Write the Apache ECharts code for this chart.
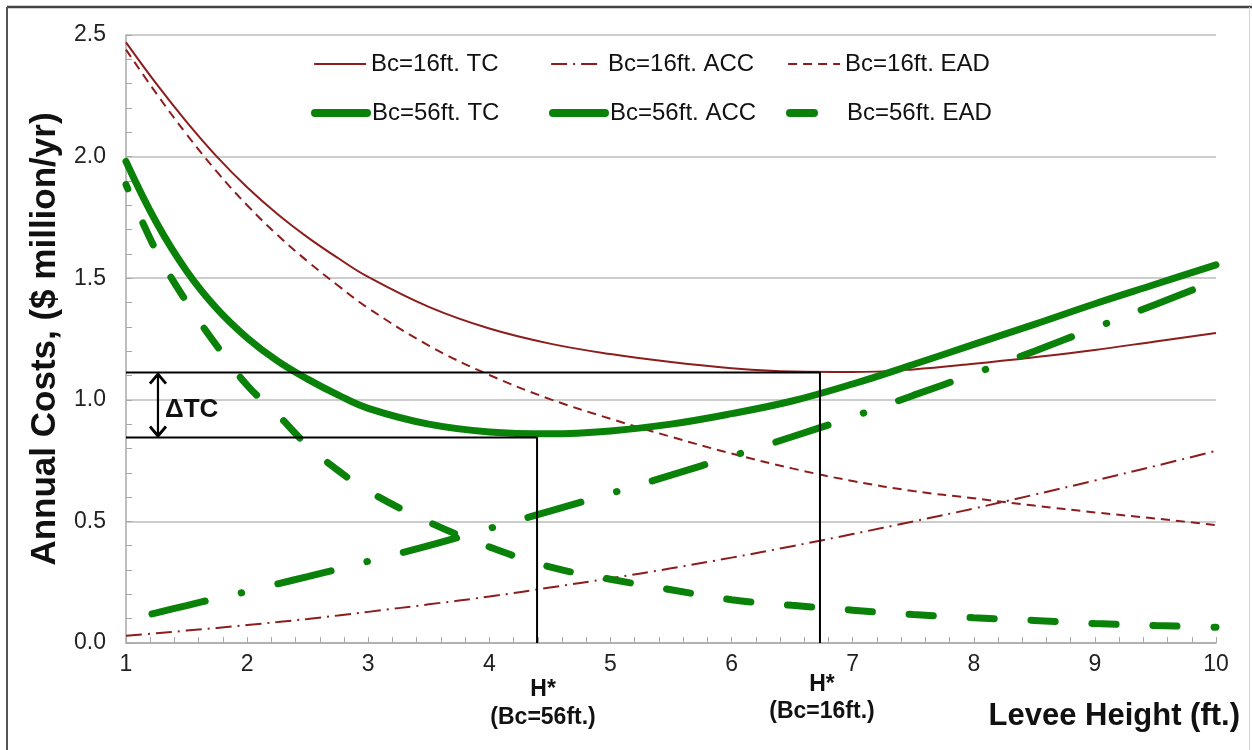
<!DOCTYPE html>
<html>
<head>
<meta charset="utf-8">
<script src="https://cdn.jsdelivr.net/npm/echarts@6/dist/echarts.min.js"></script>
<style>
html,body{margin:0;padding:0;background:#fff;}
#c{width:1252px;height:750px;}
</style>
</head>
<body>
<div id="c"></div>
<script>
// ---- data ----
const xs = [1,1.25,1.5,1.75,2,2.25,2.5,2.75,3,3.5,4,4.5,5,5.5,6,6.5,7,7.5,8,8.5,9,9.5,10];
const tc16  = [2.47,2.30,2.143,2.0,1.874,1.764,1.668,1.583,1.505,1.382,1.293,1.231,1.188,1.155,1.13,1.116,1.114,1.125,1.148,1.175,1.205,1.24,1.275];
const acc16 = [0.03,0.040,0.051,0.062,0.074,0.086,0.099,0.113,0.128,0.159,0.191,0.228,0.266,0.307,0.351,0.398,0.448,0.500,0.553,0.610,0.668,0.728,0.79];
const ead16 = [2.44,2.26,2.092,1.938,1.80,1.678,1.569,1.47,1.377,1.223,1.102,1.003,0.922,0.848,0.779,0.718,0.666,0.625,0.595,0.565,0.537,0.512,0.485];
const tc56  = [1.98,1.73,1.53,1.375,1.255,1.16,1.085,1.02,0.965,0.9,0.868,0.86,0.872,0.9,0.943,0.995,1.065,1.145,1.228,1.31,1.395,1.475,1.555];
const acc56 = [0.095,0.124,0.154,0.184,0.212,0.243,0.273,0.304,0.336,0.40,0.471,0.542,0.615,0.69,0.768,0.848,0.93,1.018,1.107,1.20,1.296,1.392,1.49];
const ead56 = [1.885,1.612,1.402,1.222,1.06,0.94,0.812,0.71,0.625,0.497,0.395,0.313,0.262,0.219,0.178,0.155,0.135,0.117,0.104,0.093,0.08,0.072,0.065];
const seriesNames = ['Bc=16ft. TC','Bc=16ft. ACC','Bc=16ft. EAD','Bc=56ft. TC','Bc=56ft. ACC','Bc=56ft. EAD'];
const yTickLabels = ['0.0','0.5','1.0','1.5','2.0','2.5'];
const xTickLabels = ['1','2','3','4','5','6','7','8','9','10'];
// optimum heights and minimum total costs
const hStar56 = 4.394, tcMin56 = 0.845;
const hStar16 = 6.73,  tcMin16 = 1.112;

// ---- styles ----
const RED = '#8c1d1d', GREEN = '#0a820a';
const styles = [
  {color:RED, width:2, type:'solid', cap:'butt'},
  {color:RED, width:2, type:[16,6,2,6], cap:'butt'},
  {color:RED, width:2, type:[9,6], cap:'butt'},
  {color:GREEN, width:7, type:'solid', cap:'round'},
  {color:GREEN, width:7, type:[55,37,0.5,37], cap:'round', dashOffset:103},
  {color:GREEN, width:7, type:[24,37], cap:'round', dashOffset:19}
];
const allData = [tc16, acc16, ead16, tc56, acc56, ead56];

const series = allData.map((arr, i) => ({
  name: seriesNames[i],
  type: 'line',
  data: xs.map((x, j) => [x, arr[j]]),
  smooth: 0.4,
  symbol: 'none',
  lineStyle: styles[i],
  itemStyle: {color: styles[i].color},
  z: 2 + i
}));
series.push({
  name:'hstar56', type:'line', symbol:'none', z:10,
  data:[[1,tcMin56],[hStar56,tcMin56],[hStar56,0]],
  lineStyle:{color:'#000', width:2}
});
series.push({
  name:'hstar16', type:'line', symbol:'none', z:10,
  data:[[1,tcMin16],[hStar16,tcMin16],[hStar16,0]],
  lineStyle:{color:'#000', width:2}
});

const FONT = 'Liberation Sans, Arial, sans-serif';
const legendLefts = [313, 550, 787, 311, 549, 786];
const legendCenters = [63, 63, 63, 112, 112, 112];
const legends = seriesNames.map((n, i) => ({
  data: [{name: n,
    lineStyle: {color: styles[i].color, width: i >= 3 ? 8 : 2.2, type: styles[i].type, cap: styles[i].cap, dashOffset: 0},
    itemStyle: {color:'rgba(0,0,0,0)', borderWidth:0, opacity:0}}],
  left: legendLefts[i],
  top: legendCenters[i] - 11,
  padding: 0,
  itemWidth: 52,
  itemHeight: 14,
  selectedMode: false,
  itemStyle: {color:'rgba(0,0,0,0)', borderWidth:0, opacity:0},
  textStyle: {fontSize: 24, color: '#111', fontFamily: FONT, lineHeight: 24}
}));

const chart = echarts.init(document.getElementById('c'), null, {renderer:'canvas'});
chart.setOption({
  animation: false,
  backgroundColor: '#fff',
  legend: legends,
  grid: {left:126, right:36, top:35, bottom:107},
  xAxis: {
    type:'value', min:1, max:10, interval:1,
    axisLine:{show:true, onZero:false, lineStyle:{color:'#a8a8a8', width:1.5}},
    axisTick:{show:true, inside:true, length:6, lineStyle:{color:'#a8a8a8'}},
    minorTick:{show:true, splitNumber:5, length:6, lineStyle:{color:'#a8a8a8'}},
    splitLine:{show:false},
    axisLabel:{fontSize:23, color:'#222', margin:10, fontFamily:FONT,
      formatter:(v)=>xTickLabels[Math.round(v)-1]}
  },
  yAxis: {
    type:'value', min:0, max:2.5, interval:0.5,
    axisLine:{show:true, lineStyle:{color:'#a8a8a8', width:1.5}},
    axisTick:{show:true, inside:true, length:6, lineStyle:{color:'#a8a8a8'}},
    minorTick:{show:true, splitNumber:5, length:6, lineStyle:{color:'#a8a8a8'}},
    splitLine:{show:true, lineStyle:{color:'#bcbcbc', width:1.5}},
    axisLabel:{fontSize:23, color:'#222', margin:20, fontFamily:FONT,
      formatter:(v)=>yTickLabels[Math.round(v/0.5)]},
    name:'Annual Costs, ($ million/yr)', nameLocation:'middle', nameGap:60,
    nameTextStyle:{fontSize:35, fontWeight:'bold', color:'#111', fontFamily:FONT}
  },
  series: series
});

// ---- annotations ----
const p56 = chart.convertToPixel({gridIndex:0}, [hStar56, 0]);
const p16 = chart.convertToPixel({gridIndex:0}, [hStar16, 0]);
const aTop = chart.convertToPixel({gridIndex:0}, [1.264, tcMin16]);
const aBot = chart.convertToPixel({gridIndex:0}, [1.264, tcMin56]);
const ax = aTop[0];
const g = [
  {type:'line', shape:{x1:7,y1:7,x2:1252,y2:7}, style:{stroke:'#444', lineWidth:2.5}},
  {type:'line', shape:{x1:7,y1:7,x2:7,y2:750}, style:{stroke:'#555', lineWidth:2}},
  {type:'line', shape:{x1:1249.5,y1:7,x2:1249.5,y2:750}, style:{stroke:'#d4d4d4', lineWidth:1}},
  // delta TC arrow
  {type:'line', shape:{x1:ax,y1:aTop[1]+1,x2:ax,y2:aBot[1]-1}, style:{stroke:'#000', lineWidth:2.2}, z:100},
  {type:'polyline', shape:{points:[[ax-8,aTop[1]+11],[ax,aTop[1]+1.5],[ax+8,aTop[1]+11]]}, style:{stroke:'#000', lineWidth:2.8, fill:null}, z:100},
  {type:'polyline', shape:{points:[[ax-8,aBot[1]-11],[ax,aBot[1]-1.5],[ax+8,aBot[1]-11]]}, style:{stroke:'#000', lineWidth:2.8, fill:null}, z:100},
  {type:'text', x:ax+7, y:(aTop[1]+aBot[1])/2+5, style:{text:'ΔTC', font:'bold 26px '+FONT, fill:'#111', textAlign:'left', textVerticalAlign:'middle'}, z:100},
  // H* labels
  {type:'text', x:p56[0]+6, y:690, style:{text:'H*', font:'bold 23px '+FONT, fill:'#111', textAlign:'center', textVerticalAlign:'middle'}},
  {type:'text', x:p56[0]+6, y:718, style:{text:'(Bc=56ft.)', font:'bold 23px '+FONT, fill:'#111', textAlign:'center', textVerticalAlign:'middle'}},
  {type:'text', x:p16[0]+2, y:685, style:{text:'H*', font:'bold 23px '+FONT, fill:'#111', textAlign:'center', textVerticalAlign:'middle'}},
  {type:'text', x:p16[0]+2, y:712, style:{text:'(Bc=16ft.)', font:'bold 23px '+FONT, fill:'#111', textAlign:'center', textVerticalAlign:'middle'}},
  {type:'text', x:1240, y:716, style:{text:'Levee Height (ft.)', font:'bold 31px '+FONT, fill:'#111', textAlign:'right', textVerticalAlign:'middle'}}
];
chart.setOption({graphic: g});
</script>
</body>
</html>
